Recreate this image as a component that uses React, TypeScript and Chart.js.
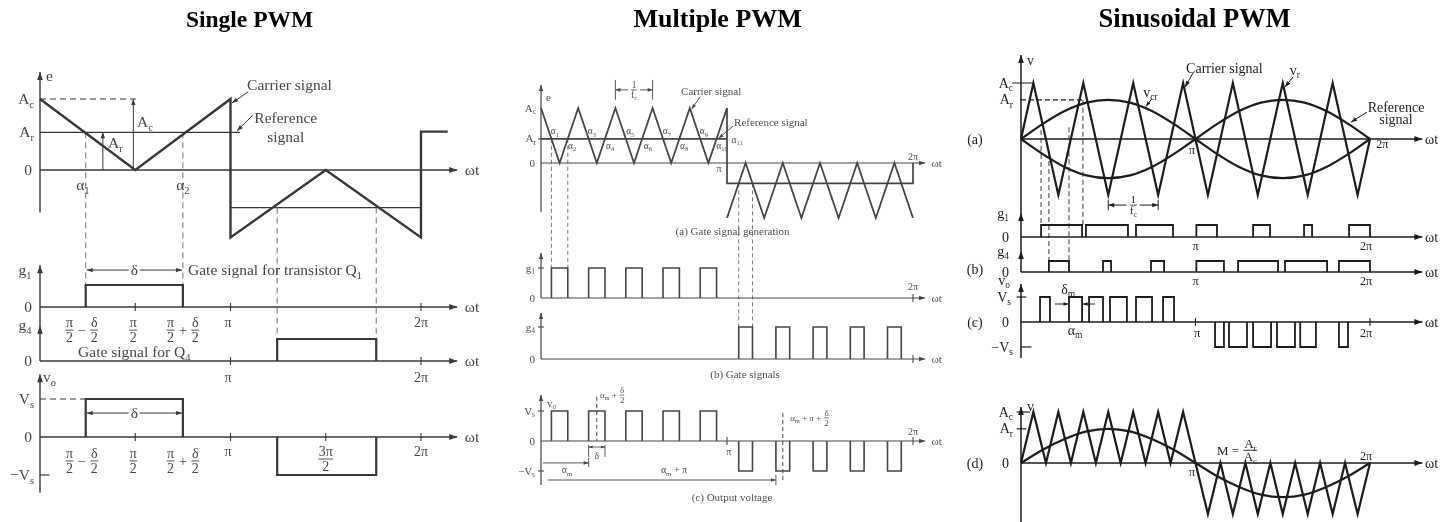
import { useEffect, useRef } from "react";
import { Chart, registerables } from "chart.js";

Chart.register(...registerables);

const WIDTH = 1456;
const HEIGHT = 522;
const SERIF = '"Liberation Serif", "Times New Roman", serif';

/* Every horizontal value is ωt measured in multiples of π. */

// ---------- Single PWM ----------
const singleCarrierX = [0, 0.5, 1, 1, 1.5, 2, 2, 2.14];
const singleCarrierY = [1, 0, 1, -0.95, 0, -0.95, 0.54, 0.54];
const singleRefPosX = [0, 1.05];
const singleRefPosY = [0.53, 0.53];
const singleRefNegX = [1, 2];
const singleRefNegY = [-0.53, -0.53];
const singleGate1 = [[0.24, 0.75]];
const singleGate4 = [[1.245, 1.765]];
const singleOutPos = [[0.24, 0.75]];
const singleOutNeg = [[1.245, 1.765]];

// ---------- Multiple PWM ----------
const multiCarrierPosX = [0, 0.1, 0.2, 0.3, 0.4, 0.5, 0.6, 0.7, 0.8, 0.9, 1];
const multiCarrierPosY = [1, 0, 1, 0, 1, 0, 1, 0, 1, 0, 1];
const multiCarrierNegX = [1, 1.1, 1.2, 1.3, 1.4, 1.5, 1.6, 1.7, 1.8, 1.9, 2];
const multiCarrierNegY = [-1, 0, -1, 0, -1, 0, -1, 0, -1, 0, -1];
const multiRefPosX = [0, 1];
const multiRefPosY = [0.44, 0.44];
const multiRefNegX = [1, 1, 2, 2];
const multiRefNegY = [1, -0.37, -0.37, 0];
const multiGate1 = [[0.056, 0.144], [0.256, 0.344], [0.456, 0.544], [0.656, 0.744], [0.856, 0.944]];
const multiGate4 = [[1.063, 1.137], [1.263, 1.337], [1.463, 1.537], [1.663, 1.737], [1.863, 1.937]];
const multiOutPos = [[0.056, 0.144], [0.256, 0.344], [0.456, 0.544], [0.656, 0.744], [0.856, 0.944]];
const multiOutNeg = [[1.063, 1.137], [1.263, 1.337], [1.463, 1.537], [1.663, 1.737], [1.863, 1.937]];

// ---------- Sinusoidal PWM ----------
const sineCarrierX = [0, 0.071, 0.214, 0.357, 0.5, 0.643, 0.786, 0.929, 1.071, 1.214, 1.357, 1.5, 1.643, 1.786, 1.929, 2];
const sineCarrierY = [0, 1, -1, 1, -1, 1, -1, 1, -1, 1, -1, 1, -1, 1, -1, 0];
const sineRefX = [0, 0.125, 0.25, 0.375, 0.5, 0.625, 0.75, 0.875, 1, 1.125, 1.25, 1.375, 1.5, 1.625, 1.75, 1.875, 2];
const sineRefY = [0, 0.27, 0.5, 0.65, 0.7, 0.65, 0.5, 0.27, 0, -0.27, -0.5, -0.65, -0.7, -0.65, -0.5, -0.27, 0];
const sineRefMirrorY = [0, -0.27, -0.5, -0.65, -0.7, -0.65, -0.5, -0.27, 0, 0.27, 0.5, 0.65, 0.7, 0.65, 0.5, 0.27, 0];
const sineGate1 = [[0.115, 0.35], [0.372, 0.613], [0.659, 0.871], [1.005, 1.123], [1.33, 1.427], [1.622, 1.668], [1.88, 2.0]];
const sineGate4 = [[0.16, 0.275], [0.47, 0.516], [0.745, 0.82], [1.005, 1.163], [1.244, 1.473], [1.513, 1.754], [1.822, 2.0]];
const sineOutPos = [[0.109, 0.166], [0.275, 0.35], [0.39, 0.47], [0.51, 0.607], [0.659, 0.751], [0.814, 0.877]];
const sineOutNeg = [[1.112, 1.163], [1.192, 1.295], [1.33, 1.433], [1.467, 1.57], [1.6, 1.69], [1.822, 1.874]];
const unipolarCarrierX = [0, 0.071, 0.143, 0.214, 0.286, 0.357, 0.429, 0.5, 0.571, 0.643, 0.714, 0.786, 0.857, 0.929, 1,
  1.071, 1.143, 1.214, 1.286, 1.357, 1.429, 1.5, 1.571, 1.643, 1.714, 1.786, 1.857, 1.929, 2];
const unipolarCarrierY = [0, 1, 0, 1, 0, 1, 0, 1, 0, 1, 0, 1, 0, 1, 0, -1, 0, -1, 0, -1, 0, -1, 0, -1, 0, -1, 0, -1, 0];
const unipolarRefY = [0, 0.26, 0.47, 0.62, 0.67, 0.62, 0.47, 0.26, 0, -0.26, -0.47, -0.62, -0.67, -0.62, -0.47, -0.26, 0];

const INK1 = "#383838";
const INK2 = "#454545";
const INK3 = "#1c1c1c";

type Part = string | [string, string];
type Pt = [number, number];
interface Seg { sy: string; a: Pt; b: Pt; arrow?: "end" | "both"; dash?: boolean; w?: number; hl?: number; }
interface Guide { x: number; sy: string; y: number; sy2: string; y2: number; }
interface Tick { sy: string; x: number; y: number; v: boolean; }
interface Head { sy: string; x: number; y: number; }
interface Note { sy: string; x: number; y: number; t: string | Part[]; align: "left" | "center" | "right"; dx?: number; dy?: number; size?: number; bg?: boolean; }
interface Panel {
  sx: string; title: string; titleX: number; titleSize: number; ink: string; text: string; guide: string; dash: number[];
  size: number; axisW: number; segs: Seg[]; guides: Guide[]; ticks: Tick[]; heads: Head[]; notes: Note[];
}

const N = (sy: string, x: number, y: number, t: string | Part[], align: "left" | "center" | "right" = "center", extra: Partial<Note> = {}): Note =>
  ({ sy, x, y, t, align, ...extra });

const PANELS: Panel[] = [
  {
    sx: "x1", title: "Single PWM", titleX: 1.1, titleSize: 23.5, ink: INK1, text: "#454545", guide: "#707070", dash: [6, 4],
    size: 15.5, axisW: 1.4,
    segs: [
      { sy: "y1e", a: [0, -0.6], b: [0, 1.38], arrow: "end" },
      { sy: "y1e", a: [0, 0], b: [2.19, 0], arrow: "end" },
      { sy: "y1g1", a: [0, 0], b: [0, 1.9], arrow: "end" },
      { sy: "y1g1", a: [0, 0], b: [2.19, 0], arrow: "end" },
      { sy: "y1g4", a: [0, 0], b: [0, 2.45] },
      { sy: "y1g4", a: [0, 0], b: [2.19, 0], arrow: "end" },
      { sy: "y1vo", a: [0, -1.47], b: [0, 1.65], arrow: "end" },
      { sy: "y1vo", a: [0, 0], b: [2.19, 0], arrow: "end" },
      { sy: "y1e", a: [0, 1], b: [0.52, 1], dash: true, w: 1 },
      { sy: "y1vo", a: [0, 1], b: [0.24, 1], dash: true, w: 1 },
      { sy: "y1e", a: [0.49, 0], b: [0.49, 1], arrow: "end", w: 1, hl: 6 },
      { sy: "y1e", a: [0.33, 0], b: [0.33, 0.53], arrow: "end", w: 1, hl: 6 },
      { sy: "y1vo", a: [0, -1], b: [0.05, -1], w: 1.2 },
      { sy: "y1e", a: [1.092, 1.1], b: [1.008, 0.944], arrow: "end", w: 1, hl: 6 },
      { sy: "y1e", a: [1.118, 0.775], b: [1.034, 0.55], arrow: "end", w: 1, hl: 6 },
      { sy: "y1g1", a: [0.245, 1.68], b: [0.745, 1.68], arrow: "both", w: 1, hl: 6 },
      { sy: "y1vo", a: [0.245, 0.63], b: [0.745, 0.63], arrow: "both", w: 1, hl: 6 },
    ],
    heads: [{ sy: "y1g4", x: 0, y: 1.6 }],
    ticks: [
      { sy: "y1g1", x: 0.5, y: 0, v: true }, { sy: "y1g1", x: 1, y: 0, v: true }, { sy: "y1g1", x: 2, y: 0, v: true },
      { sy: "y1g4", x: 1, y: 0, v: true }, { sy: "y1g4", x: 2, y: 0, v: true },
      { sy: "y1vo", x: 0.5, y: 0, v: true }, { sy: "y1vo", x: 1, y: 0, v: true },
      { sy: "y1vo", x: 1.5, y: 0, v: true }, { sy: "y1vo", x: 2, y: 0, v: true },
    ],
    guides: [
      { x: 0.24, sy: "y1e", y: 0.53, sy2: "y1g1", y2: 1 },
      { x: 0.75, sy: "y1e", y: 0.53, sy2: "y1g1", y2: 1 },
      { x: 1.245, sy: "y1e", y: -0.53, sy2: "y1g4", y2: 1 },
      { x: 1.765, sy: "y1e", y: -0.53, sy2: "y1g4", y2: 1 },
    ],
    notes: [
      N("y1e", 0, 1.33, "e", "left", { dx: 6 }),
      N("y1e", 0, 1, "A_c", "right", { dx: -6 }),
      N("y1e", 0, 0.53, "A_r", "right", { dx: -6 }),
      N("y1e", 0, 0, "0", "right", { dx: -8 }),
      N("y1e", 0.509, 0.68, "A_c", "left"),
      N("y1e", 0.357, 0.38, "A_r", "left"),
      N("y1e", 0.225, -0.21, "α_1"),
      N("y1e", 0.75, -0.21, "α_2"),
      N("y1e", 2.23, 0, "ωt", "left"),
      N("y1e", 1.087, 1.2, "Carrier signal", "left"),
      N("y1e", 1.29, 0.73, "Reference"),
      N("y1e", 1.29, 0.47, "signal"),
      N("y1g1", -0.079, 1.68, "g_1"),
      N("y1g1", 0, 0, "0", "right", { dx: -8 }),
      N("y1g1", 0.495, 1.68, "δ", "center", { bg: true }),
      N("y1g1", 0.777, 1.68, "Gate signal for transistor Q_1", "left"),
      N("y1g1", 0.22, -1.05, [["π", "2"], " − ", ["δ", "2"]], "center", { size: 14 }),
      N("y1g1", 0.49, -1.05, [["π", "2"]], "center", { size: 14 }),
      N("y1g1", 0.75, -1.05, [["π", "2"], " + ", ["δ", "2"]], "center", { size: 14 }),
      N("y1g1", 0.987, -0.68, "π", "center", { size: 14 }),
      N("y1g1", 2.0, -0.68, "2π", "center", { size: 14 }),
      N("y1g1", 2.23, 0, "ωt", "left"),
      N("y1g4", -0.079, 1.64, "g_4"),
      N("y1g4", 0, 0, "0", "right", { dx: -8 }),
      N("y1g4", 0.2, 0.41, "Gate signal for Q_4", "left"),
      N("y1g4", 0.987, -0.73, "π", "center", { size: 14 }),
      N("y1g4", 2.0, -0.73, "2π", "center", { size: 14 }),
      N("y1g4", 2.23, 0, "ωt", "left"),
      N("y1vo", 0, 1.58, "v_o", "left", { dx: 3 }),
      N("y1vo", 0, 1, "V_s", "right", { dx: -6 }),
      N("y1vo", 0, 0, "0", "right", { dx: -8 }),
      N("y1vo", 0, -1, "−V_s", "right", { dx: -6 }),
      N("y1vo", 0.495, 0.63, "δ", "center", { bg: true }),
      N("y1vo", 0.22, -0.63, [["π", "2"], " − ", ["δ", "2"]], "center", { size: 14 }),
      N("y1vo", 0.49, -0.63, [["π", "2"]], "center", { size: 14 }),
      N("y1vo", 0.75, -0.63, [["π", "2"], " + ", ["δ", "2"]], "center", { size: 14 }),
      N("y1vo", 0.987, -0.39, "π", "center", { size: 14 }),
      N("y1vo", 1.5, -0.58, [["3π", "2"]], "center", { size: 14 }),
      N("y1vo", 2.0, -0.39, "2π", "center", { size: 14 }),
      N("y1vo", 2.23, 0, "ωt", "left"),
    ],
  },
  {
    sx: "x2", title: "Multiple PWM", titleX: 0.95, titleSize: 26, ink: INK2, text: "#4e4e4e", guide: "#777777", dash: [4, 3],
    size: 11, axisW: 1.2,
    segs: [
      { sy: "y2e", a: [0, -0.89], b: [0, 1.42], arrow: "end", hl: 6 },
      { sy: "y2e", a: [0, 0], b: [2.065, 0], arrow: "end", hl: 6 },
      { sy: "y2g1", a: [0, 0], b: [0, 1.5], arrow: "end", hl: 6 },
      { sy: "y2g1", a: [0, 0], b: [2.065, 0], arrow: "end", hl: 6 },
      { sy: "y2g4", a: [0, 0], b: [0, 1.44], arrow: "end", hl: 6 },
      { sy: "y2g4", a: [0, 0], b: [2.065, 0], arrow: "end", hl: 6 },
      { sy: "y2vo", a: [0, -1.47], b: [0, 1.53], arrow: "end", hl: 6 },
      { sy: "y2vo", a: [0, 0], b: [2.065, 0], arrow: "end", hl: 6 },
      { sy: "y2e", a: [0.4, 1.15], b: [0.4, 1.51], w: 0.9 },
      { sy: "y2e", a: [0.6, 1.15], b: [0.6, 1.51], w: 0.9 },
      { sy: "y2e", a: [0.5, 1.33], b: [0.4, 1.33], arrow: "end", w: 0.9, hl: 5 },
      { sy: "y2e", a: [0.5, 1.33], b: [0.6, 1.33], arrow: "end", w: 0.9, hl: 5 },
      { sy: "y2e", a: [0.855, 1.2], b: [0.81, 0.98], arrow: "end", w: 0.9, hl: 5 },
      { sy: "y2e", a: [1.032, 0.67], b: [0.955, 0.45], arrow: "end", w: 0.9, hl: 5 },
      { sy: "y2vo", a: [0.256, -0.13], b: [0.256, -0.53], w: 0.9 },
      { sy: "y2vo", a: [0.344, -0.13], b: [0.344, -0.53], w: 0.9 },
      { sy: "y2vo", a: [0.3, -0.2], b: [0.256, -0.2], arrow: "end", w: 0.8, hl: 4 },
      { sy: "y2vo", a: [0.3, -0.2], b: [0.344, -0.2], arrow: "end", w: 0.8, hl: 4 },
      { sy: "y2vo", a: [0.01, -0.73], b: [0.256, -0.73], arrow: "end", w: 0.9, hl: 5 },
      { sy: "y2vo", a: [0.256, -0.57], b: [0.256, -0.87], w: 0.9 },
      { sy: "y2vo", a: [0.035, -1.3], b: [1.263, -1.3], arrow: "end", w: 0.9, hl: 5 },
      { sy: "y2vo", a: [1.263, -1.13], b: [1.263, -1.47], w: 0.9 },
      { sy: "y2vo", a: [0.3, 1.47], b: [0.3, 0], dash: true, w: 1 },
      { sy: "y2vo", a: [1.3, 0.93], b: [1.3, -1.4], dash: true, w: 1 },
    ],
    heads: [],
    ticks: [
      { sy: "y2e", x: 0, y: 0.44, v: false },
      { sy: "y2g1", x: 0, y: 1, v: false }, { sy: "y2g4", x: 0, y: 1, v: false },
      { sy: "y2vo", x: 0, y: 1, v: false }, { sy: "y2vo", x: 0, y: -1, v: false },
      { sy: "y2g1", x: 2, y: 0, v: true }, { sy: "y2g4", x: 2, y: 0, v: true },
      { sy: "y2vo", x: 1, y: 0, v: true }, { sy: "y2vo", x: 2, y: 0, v: true },
    ],
    guides: [
      { x: 0.056, sy: "y2e", y: 0.44, sy2: "y2g1", y2: 1 },
      { x: 0.144, sy: "y2e", y: 0.44, sy2: "y2g1", y2: 1 },
      { x: 1.063, sy: "y2e", y: -0.37, sy2: "y2g4", y2: 1 },
      { x: 1.137, sy: "y2e", y: -0.37, sy2: "y2g4", y2: 1 },
    ],
    notes: [
      N("y2e", 0, 1.2, "e", "left", { dx: 5 }),
      N("y2e", 0, 1, "A_c", "right", { dx: -5 }),
      N("y2e", 0, 0.44, "A_r", "right", { dx: -5 }),
      N("y2e", 0, 0, "0", "right", { dx: -6 }),
      N("y2e", 0.753, 1.31, "Carrier signal", "left"),
      N("y2e", 1.038, 0.73, "Reference signal", "left"),
      N("y2e", 0.075, 0.58, "α_1", "center", { size: 9.5 }),
      N("y2e", 0.167, 0.31, "α_2", "center", { size: 9.5 }),
      N("y2e", 0.274, 0.58, "α_3", "center", { size: 9.5 }),
      N("y2e", 0.371, 0.31, "α_4", "center", { size: 9.5 }),
      N("y2e", 0.48, 0.58, "α_5", "center", { size: 9.5 }),
      N("y2e", 0.575, 0.31, "α_6", "center", { size: 9.5 }),
      N("y2e", 0.677, 0.58, "α_7", "center", { size: 9.5 }),
      N("y2e", 0.769, 0.31, "α_8", "center", { size: 9.5 }),
      N("y2e", 0.876, 0.58, "α_9", "center", { size: 9.5 }),
      N("y2e", 0.973, 0.31, "α_{10}", "center", { size: 9.5 }),
      N("y2e", 1.054, 0.42, "α_{11}", "center", { size: 9.5 }),
      N("y2e", 0.957, -0.1, "π", "center", { size: 10 }),
      N("y2e", 2.0, 0.11, "2π", "center", { size: 10 }),
      N("y2e", 2.1, 0, "ωt", "left"),
      N("y2e", 0.5, 1.33, [["1", "f_c"]], "center", { size: 9.5, bg: true }),
      N("y2e", 1.03, -1.25, "(a) Gate signal generation"),
      N("y2g1", 0, 1, "g_1", "right", { dx: -6 }),
      N("y2g1", 0, 0, "0", "right", { dx: -6 }),
      N("y2g1", 2.0, 0.37, "2π", "center", { size: 10 }),
      N("y2g1", 2.1, 0, "ωt", "left"),
      N("y2g4", 0, 1, "g_4", "right", { dx: -6 }),
      N("y2g4", 0, 0, "0", "right", { dx: -6 }),
      N("y2g4", 2.1, 0, "ωt", "left"),
      N("y2g4", 1.097, -0.47, "(b) Gate signals"),
      N("y2vo", 0, 1.27, "v_o", "left", { dx: 6 }),
      N("y2vo", 0, 1, "V_s", "right", { dx: -6 }),
      N("y2vo", 0, 0, "0", "right", { dx: -6 }),
      N("y2vo", 0, -1, "−V_s", "right", { dx: -6 }),
      N("y2vo", 1.01, -0.37, "π", "center", { size: 10 }),
      N("y2vo", 2.0, 0.3, "2π", "center", { size: 10 }),
      N("y2vo", 2.1, 0, "ωt", "left"),
      N("y2vo", 0.317, 1.53, ["α_m + ", ["δ", "2"]], "left", { size: 9 }),
      N("y2vo", 0.3, -0.5, "δ", "center", { size: 9.5 }),
      N("y2vo", 0.14, -0.97, "α_m", "center", { size: 10 }),
      N("y2vo", 0.715, -0.97, "α_m + π", "center", { size: 10 }),
      N("y2vo", 1.34, 0.77, ["α_m + π + ", ["δ", "2"]], "left", { size: 9 }),
      N("y2vo", 1.027, -1.87, "(c) Output voltage"),
    ],
  },
  {
    sx: "x3", title: "Sinusoidal PWM", titleX: 0.995, titleSize: 26.5, ink: INK3, text: "#1c1c1c", guide: "#3a3a3a", dash: [5, 3],
    size: 14, axisW: 1.5,
    segs: [
      { sy: "y3a", a: [0, -2.375], b: [0, 1.5], arrow: "end" },
      { sy: "y3a", a: [0, 0], b: [2.3, 0], arrow: "end" },
      { sy: "y3g1", a: [0, 0], b: [2.3, 0], arrow: "end" },
      { sy: "y3g4", a: [0, 0], b: [2.3, 0], arrow: "end" },
      { sy: "y3c", a: [0, -1.44], b: [0, 1.52], arrow: "end" },
      { sy: "y3c", a: [0, 0], b: [2.3, 0], arrow: "end" },
      { sy: "y3d", a: [0, -1.2], b: [0, 1.1], arrow: "end" },
      { sy: "y3d", a: [0, 0], b: [2.3, 0], arrow: "end" },
      { sy: "y3a", a: [-0.05, 1], b: [0.071, 1], w: 1 },
      { sy: "y3a", a: [0, 0.7], b: [0.357, 0.7], dash: true, w: 1.2 },
      { sy: "y3c", a: [-0.025, 1], b: [0.03, 1], w: 1.2 },
      { sy: "y3c", a: [0, -1], b: [0.06, -1], w: 1.2 },
      { sy: "y3d", a: [-0.025, 1], b: [0.05, 1], w: 1.2 },
      { sy: "y3d", a: [-0.025, 0.67], b: [0.03, 0.67], w: 1.2 },
      { sy: "y3a", a: [0.5, -1.09], b: [0.5, -1.27], w: 1 },
      { sy: "y3a", a: [0.786, -1.09], b: [0.786, -1.27], w: 1 },
      { sy: "y3a", a: [0.643, -1.18], b: [0.5, -1.18], arrow: "end", w: 1, hl: 6 },
      { sy: "y3a", a: [0.643, -1.18], b: [0.786, -1.18], arrow: "end", w: 1, hl: 6 },
      { sy: "y3a", a: [0.986, 1.18], b: [0.94, 0.93], arrow: "end", w: 1, hl: 6 },
      { sy: "y3a", a: [0.75, 0.72], b: [0.716, 0.58], arrow: "end", w: 1, hl: 5 },
      { sy: "y3a", a: [1.56, 1.11], b: [1.513, 0.93], arrow: "end", w: 1, hl: 6 },
      { sy: "y3a", a: [1.983, 0.48], b: [1.891, 0.3], arrow: "end", w: 1, hl: 6 },
      { sy: "y3c", a: [0.195, 0.72], b: [0.272, 0.72], arrow: "end", w: 1, hl: 5 },
      { sy: "y3c", a: [0.424, 0.72], b: [0.353, 0.72], arrow: "end", w: 1, hl: 5 },
    ],
    heads: [{ sy: "y3g1", x: 0, y: 2.0 }, { sy: "y3g4", x: 0, y: 1.9 }],
    ticks: [{ sy: "y3c", x: 1, y: 0, v: true }, { sy: "y3c", x: 2, y: 0, v: true }],
    guides: [
      { x: 0.115, sy: "y3a", y: 0.16, sy2: "y3g1", y2: 1 },
      { x: 0.16, sy: "y3a", y: -0.25, sy2: "y3g4", y2: 1 },
      { x: 0.275, sy: "y3a", y: 0.21, sy2: "y3g4", y2: 1 },
      { x: 0.355, sy: "y3a", y: 0.7, sy2: "y3g1", y2: 1 },
    ],
    notes: [
      N("y3a", 0, 1.41, "v", "left", { dx: 6 }),
      N("y3a", 0, 1, "A_c", "right", { dx: -8 }),
      N("y3a", 0, 0.7, "A_r", "right", { dx: -8 }),
      N("y3a", -0.264, 0, "(a)"),
      N("y3a", 0.946, 1.27, "Carrier signal", "left"),
      N("y3a", 0.7, 0.84, "v_{cr}", "left"),
      N("y3a", 1.54, 1.23, "v_r", "left"),
      N("y3a", 2.149, 0.571, "Reference"),
      N("y3a", 2.149, 0.357, "signal"),
      N("y3a", 0.98, -0.2, "π", "center", { size: 12 }),
      N("y3a", 2.07, -0.09, "2π", "center", { size: 12 }),
      N("y3a", 2.315, 0, "ωt", "left"),
      N("y3a", 0.643, -1.18, [["1", "f_c"]], "center", { size: 11, bg: true }),
      N("y3g1", -0.103, 2.0, "g_1"),
      N("y3g1", 0, 0, "0", "right", { dx: -12 }),
      N("y3g1", 1.0, -0.75, "π", "center", { size: 12 }),
      N("y3g1", 1.977, -0.75, "2π", "center", { size: 12 }),
      N("y3g1", 2.315, 0, "ωt", "left"),
      N("y3g4", -0.103, 1.9, "g_4"),
      N("y3g4", -0.264, 0.2, "(b)"),
      N("y3g4", 0, 0, "0", "right", { dx: -12 }),
      N("y3g4", 1.0, -0.82, "π", "center", { size: 12 }),
      N("y3g4", 1.977, -0.82, "2π", "center", { size: 12 }),
      N("y3g4", 2.315, 0, "ωt", "left"),
      N("y3c", -0.097, 1.68, "v_o"),
      N("y3c", 0, 1, "V_s", "right", { dx: -10 }),
      N("y3c", -0.264, 0, "(c)"),
      N("y3c", 0, 0, "0", "right", { dx: -12 }),
      N("y3c", 0, -1, "−V_s", "right", { dx: -8 }),
      N("y3c", 0.23, 1.32, "δ_m", "left"),
      N("y3c", 0.31, -0.32, "α_m"),
      N("y3c", 1.01, -0.44, "π", "center", { size: 12 }),
      N("y3c", 1.977, -0.44, "2π", "center", { size: 12 }),
      N("y3c", 2.315, 0, "ωt", "left"),
      N("y3d", 0, 1.12, "v", "left", { dx: 6 }),
      N("y3d", 0, 1, "A_c", "right", { dx: -8 }),
      N("y3d", 0, 0.67, "A_r", "right", { dx: -8 }),
      N("y3d", -0.264, 0, "(d)"),
      N("y3d", 0, 0, "0", "right", { dx: -12 }),
      N("y3d", 0.98, -0.18, "π", "center", { size: 12 }),
      N("y3d", 1.977, 0.14, "2π", "center", { size: 12 }),
      N("y3d", 2.315, 0, "ωt", "left"),
      N("y3d", 1.123, 0.25, ["M = ", ["A_r", "A_c"]], "left", { size: 13 }),
    ],
  },
];

// ---------- text helpers (subscripts written as _x or _{xy}) ----------
function runs(s: string): { t: string; sub: boolean }[] {
  const out: { t: string; sub: boolean }[] = [];
  let i = 0;
  while (i < s.length) {
    if (s[i] === "_") {
      if (s[i + 1] === "{") {
        const j = s.indexOf("}", i);
        out.push({ t: s.slice(i + 2, j), sub: true });
        i = j + 1;
      } else {
        out.push({ t: s[i + 1], sub: true });
        i += 2;
      }
    } else {
      let j = i;
      while (j < s.length && s[j] !== "_") j++;
      out.push({ t: s.slice(i, j), sub: false });
      i = j;
    }
  }
  return out;
}
const font = (size: number) => `${size}px ${SERIF}`;

function richWidth(ctx: CanvasRenderingContext2D, s: string, size: number) {
  let w = 0;
  for (const r of runs(s)) {
    ctx.font = font(r.sub ? size * 0.68 : size);
    w += ctx.measureText(r.t).width;
  }
  return w;
}
function drawRich(ctx: CanvasRenderingContext2D, s: string, x: number, y: number, size: number) {
  let cx = x;
  for (const r of runs(s)) {
    const fs = r.sub ? size * 0.68 : size;
    ctx.font = font(fs);
    ctx.fillText(r.t, cx, y + size * 0.33 + (r.sub ? size * 0.24 : 0));
    cx += ctx.measureText(r.t).width;
  }
}
function partWidth(ctx: CanvasRenderingContext2D, p: Part, size: number) {
  if (typeof p === "string") return richWidth(ctx, p, size);
  return Math.max(richWidth(ctx, p[0], size), richWidth(ctx, p[1], size)) + size * 0.2;
}
function drawParts(ctx: CanvasRenderingContext2D, parts: Part[], x: number, y: number, size: number, align: string, bg?: boolean) {
  const widths = parts.map((p) => partWidth(ctx, p, size));
  const total = widths.reduce((a, b) => a + b, 0);
  let cx = align === "left" ? x : align === "right" ? x - total : x - total / 2;
  if (bg) {
    const tall = parts.some((p) => typeof p !== "string");
    const h = tall ? size * 1.1 : size * 0.6;
    ctx.save();
    ctx.fillStyle = "#ffffff";
    ctx.fillRect(cx - 2, y - h, total + 4, 2 * h);
    ctx.restore();
  }
  parts.forEach((p, i) => {
    const w = widths[i];
    if (typeof p === "string") {
      drawRich(ctx, p, cx, y, size);
    } else {
      const wn = richWidth(ctx, p[0], size);
      const wd = richWidth(ctx, p[1], size);
      drawRich(ctx, p[0], cx + (w - wn) / 2, y - size * 0.52, size);
      drawRich(ctx, p[1], cx + (w - wd) / 2, y + size * 0.52, size);
      ctx.save();
      ctx.strokeStyle = ctx.fillStyle as string;
      ctx.lineWidth = Math.max(0.8, size / 15);
      ctx.beginPath();
      ctx.moveTo(cx + 1, y);
      ctx.lineTo(cx + w - 1, y);
      ctx.stroke();
      ctx.restore();
    }
    cx += w;
  });
}

function arrowHead(ctx: CanvasRenderingContext2D, x: number, y: number, ang: number, len: number) {
  ctx.save();
  ctx.translate(x, y);
  ctx.rotate(ang);
  ctx.beginPath();
  ctx.moveTo(0, 0);
  ctx.lineTo(-len, -len * 0.36);
  ctx.lineTo(-len, len * 0.36);
  ctx.closePath();
  ctx.fill();
  ctx.restore();
}

const annotations = {
  id: "pwmAnnotations",
  beforeDatasetsDraw(chart: any) {
    const ctx: CanvasRenderingContext2D = chart.ctx;
    for (const p of PANELS) {
      const X = chart.scales[p.sx];
      ctx.save();
      // dashed construction lines linking a crossing to its gate pulse
      ctx.strokeStyle = p.guide;
      ctx.lineWidth = 1;
      ctx.setLineDash(p.dash);
      for (const g of p.guides) {
        const x = X.getPixelForValue(g.x);
        ctx.beginPath();
        ctx.moveTo(x, chart.scales[g.sy].getPixelForValue(g.y));
        ctx.lineTo(x, chart.scales[g.sy2].getPixelForValue(g.y2));
        ctx.stroke();
      }
      ctx.setLineDash([]);
      ctx.strokeStyle = p.ink;
      ctx.fillStyle = p.ink;
      for (const s of p.segs) {
        const Y = chart.scales[s.sy];
        const x1 = X.getPixelForValue(s.a[0]), y1 = Y.getPixelForValue(s.a[1]);
        const x2 = X.getPixelForValue(s.b[0]), y2 = Y.getPixelForValue(s.b[1]);
        ctx.lineWidth = s.w ?? p.axisW;
        ctx.setLineDash(s.dash ? p.dash : []);
        ctx.beginPath();
        ctx.moveTo(x1, y1);
        ctx.lineTo(x2, y2);
        ctx.stroke();
        ctx.setLineDash([]);
        const hl = s.hl ?? 8;
        if (s.arrow) arrowHead(ctx, x2, y2, Math.atan2(y2 - y1, x2 - x1), hl);
        if (s.arrow === "both") arrowHead(ctx, x1, y1, Math.atan2(y1 - y2, x1 - x2), hl);
      }
      for (const h of p.heads) {
        arrowHead(ctx, X.getPixelForValue(h.x), chart.scales[h.sy].getPixelForValue(h.y), -Math.PI / 2, 8);
      }
      ctx.lineWidth = 1.1;
      for (const t of p.ticks) {
        const x = X.getPixelForValue(t.x), y = chart.scales[t.sy].getPixelForValue(t.y);
        ctx.beginPath();
        if (t.v) { ctx.moveTo(x, y - 4); ctx.lineTo(x, y + 4); } else { ctx.moveTo(x - 3, y); ctx.lineTo(x + 3, y); }
        ctx.stroke();
      }
      ctx.restore();
    }
  },
  afterDatasetsDraw(chart: any) {
    const ctx: CanvasRenderingContext2D = chart.ctx;
    for (const p of PANELS) {
      const X = chart.scales[p.sx];
      ctx.save();
      ctx.fillStyle = p.text;
      for (const n of p.notes) {
        const x = X.getPixelForValue(n.x) + (n.dx ?? 0);
        const y = chart.scales[n.sy].getPixelForValue(n.y) + (n.dy ?? 0);
        const parts: Part[] = typeof n.t === "string" ? [n.t] : n.t;
        drawParts(ctx, parts, x, y, n.size ?? p.size, n.align, n.bg);
      }
      ctx.fillStyle = "#000000";
      ctx.font = `bold ${p.titleSize}px ${SERIF}`;
      ctx.textAlign = "center";
      ctx.fillText(p.title, X.getPixelForValue(p.titleX), 27);
      ctx.restore();
    }
  },
};

function trace(xs: number[], ys: number[], xAxisID: string, yAxisID: string, color: string, width: number, smooth = false) {
  return {
    type: "line" as const,
    data: xs.map((x, i) => ({ x, y: ys[i] })),
    xAxisID,
    yAxisID,
    borderColor: color,
    borderWidth: width,
    borderJoinStyle: "miter" as const,
    pointRadius: 0,
    fill: false,
    tension: 0,
    cubicInterpolationMode: smooth ? ("monotone" as const) : ("default" as const),
  };
}

function pulses(spans: number[][], level: number, xAxisID: string, yAxisID: string, color: string, width: number) {
  const data: { x: number; y: number | null }[] = [];
  for (const [a, b] of spans) {
    data.push({ x: a, y: 0 }, { x: a, y: level }, { x: b, y: level }, { x: b, y: 0 }, { x: b, y: null });
  }
  return {
    type: "line" as const,
    data,
    xAxisID,
    yAxisID,
    borderColor: color,
    borderWidth: width,
    borderJoinStyle: "miter" as const,
    pointRadius: 0,
    fill: false,
    tension: 0,
    spanGaps: false,
  };
}

// horizontal axis: pixel of ωt = 0 and pixels per π
const hScale = (zero: number, perPi: number) => ({
  type: "linear" as const, axis: "x" as const, position: "bottom" as const, display: false, bounds: "data" as const,
  min: -zero / perPi, max: (WIDTH - zero) / perPi,
});
// vertical axis: pixel of value 0 and pixels per unit
const vScale = (zero: number, perUnit: number) => ({
  type: "linear" as const, axis: "y" as const, position: "left" as const, display: false, bounds: "data" as const,
  min: -(HEIGHT - zero) / perUnit, max: zero / perUnit,
});

export default function App() {
  const canvasRef = useRef<HTMLCanvasElement>(null);

  useEffect(() => {
    const canvas = canvasRef.current;
    if (!canvas) return;
    const datasets: any[] = [
      trace(singleCarrierX, singleCarrierY, "x1", "y1e", INK1, 2.4),
      trace(singleRefPosX, singleRefPosY, "x1", "y1e", INK1, 1.3),
      trace(singleRefNegX, singleRefNegY, "x1", "y1e", INK1, 1.3),
      pulses(singleGate1, 1, "x1", "y1g1", INK1, 2.2),
      pulses(singleGate4, 1, "x1", "y1g4", INK1, 2.2),
      pulses(singleOutPos, 1, "x1", "y1vo", INK1, 2.2),
      pulses(singleOutNeg, -1, "x1", "y1vo", INK1, 2.2),

      trace(multiCarrierPosX, multiCarrierPosY, "x2", "y2e", INK2, 1.8),
      trace(multiCarrierNegX, multiCarrierNegY, "x2", "y2e", INK2, 1.8),
      trace(multiRefPosX, multiRefPosY, "x2", "y2e", INK2, 1.7),
      trace(multiRefNegX, multiRefNegY, "x2", "y2e", INK2, 1.7),
      pulses(multiGate1, 1, "x2", "y2g1", INK2, 1.6),
      pulses(multiGate4, 1, "x2", "y2g4", INK2, 1.6),
      pulses(multiOutPos, 1, "x2", "y2vo", INK2, 1.6),
      pulses(multiOutNeg, -1, "x2", "y2vo", INK2, 1.6),

      trace(sineCarrierX, sineCarrierY, "x3", "y3a", INK3, 2.2),
      trace(sineRefX, sineRefY, "x3", "y3a", INK3, 2.2, true),
      trace(sineRefX, sineRefMirrorY, "x3", "y3a", INK3, 2.2, true),
      pulses(sineGate1, 1, "x3", "y3g1", INK3, 1.8),
      pulses(sineGate4, 1, "x3", "y3g4", INK3, 1.8),
      pulses(sineOutPos, 1, "x3", "y3c", INK3, 1.8),
      pulses(sineOutNeg, -1, "x3", "y3c", INK3, 1.8),
      trace(unipolarCarrierX, unipolarCarrierY, "x3", "y3d", INK3, 2.2),
      trace(sineRefX, unipolarRefY, "x3", "y3d", INK3, 2.2, true),
    ];

    const chart = new Chart(canvas, {
      type: "line",
      data: { datasets },
      options: {
        responsive: false,
        animation: false,
        devicePixelRatio: 1,
        events: [],
        layout: { padding: 0 },
        plugins: { legend: { display: false }, tooltip: { enabled: false }, title: { display: false } },
        scales: {
          x1: hScale(40, 190.5),
          x2: hScale(541, 186),
          x3: hScale(1021, 174.5),
          y1e: vScale(170, 71),
          y1g1: vScale(307, 22),
          y1g4: vScale(361, 22),
          y1vo: vScale(437, 38),
          y2e: vScale(163, 55),
          y2g1: vScale(298, 30),
          y2g4: vScale(359, 32),
          y2vo: vScale(441, 30),
          y3a: vScale(139, 56),
          y3g1: vScale(237, 12),
          y3g4: vScale(272, 11),
          y3c: vScale(322, 25),
          y3d: vScale(463, 51),
        },
      } as any,
      plugins: [annotations],
    });
    return () => chart.destroy();
  }, []);

  return (
    <div style={{ position: "fixed", left: 0, top: 0, width: WIDTH, height: HEIGHT, background: "#ffffff" }}>
      <canvas ref={canvasRef} width={WIDTH} height={HEIGHT} style={{ display: "block", width: WIDTH, height: HEIGHT }} />
    </div>
  );
}
